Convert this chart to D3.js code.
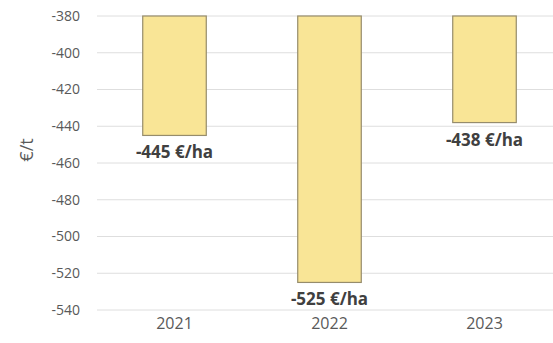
<!DOCTYPE html>
<html><head><meta charset="utf-8">
<script src="https://cdn.jsdelivr.net/npm/d3@7"></script>
<style>body{margin:0;background:#fff;}svg{display:block;font-family:"Open Sans",sans-serif;}</style>
</head><body><svg id="c" width="553" height="343"></svg>
<script>
const categories = ["2021", "2022", "2023"];
const values = [-445, -525, -438];
const valueLabels = ["-445 €/ha", "-525 €/ha", "-438 €/ha"];
const yTicks = [-380, -400, -420, -440, -460, -480, -500, -520, -540];
const yLabel = "€/t";

const svg = d3.select("#c");
const x = d3.scaleBand().domain(categories).range([97, 562]).paddingInner(0.59).paddingOuter(0.295);
const y = d3.scaleLinear().domain([-380, -540]).range([16, 310]);

svg.append("g").selectAll("line").data(yTicks).join("line")
  .attr("x1", 97).attr("x2", 553)
  .attr("y1", d => y(d)).attr("y2", d => y(d))
  .attr("stroke", "#dedede").attr("stroke-width", 1);

const yAxis = d3.axisLeft(y).tickValues(yTicks).tickSize(0).tickPadding(0).tickFormat(d => String(d));
const ga = svg.append("g").attr("transform", "translate(80,0)").call(yAxis);
ga.select(".domain").remove();
ga.selectAll("text").attr("font-size", 14).attr("fill", "#595959").attr("font-family", "Open Sans");

svg.append("g").selectAll("rect").data(values).join("rect")
  .attr("x", (d, i) => x(categories[i]))
  .attr("width", x.bandwidth())
  .attr("y", y(-380))
  .attr("height", d => y(d) - y(-380))
  .attr("fill", "#f9e596").attr("stroke", "#968c6c").attr("stroke-width", 1.2);

svg.append("g").selectAll("text").data(values).join("text")
  .attr("x", (d, i) => x(categories[i]) + x.bandwidth() / 2)
  .attr("y", d => y(d) + 23)
  .attr("text-anchor", "middle")
  .attr("font-size", 17).attr("font-weight", "bold").attr("fill", "#404040")
  .text((d, i) => valueLabels[i]);

const xAxis = d3.axisBottom(x).tickSize(0).tickPadding(0);
const gx = svg.append("g").attr("transform", "translate(0,318)").call(xAxis);
gx.select(".domain").remove();
gx.selectAll("text").attr("font-size", 16).attr("fill", "#595959").attr("font-family", "Open Sans");

svg.append("text").attr("transform", "translate(33,150) rotate(-90)")
  .attr("text-anchor", "middle").attr("font-size", 18).attr("fill", "#595959")
  .text(yLabel);
</script></body></html>
